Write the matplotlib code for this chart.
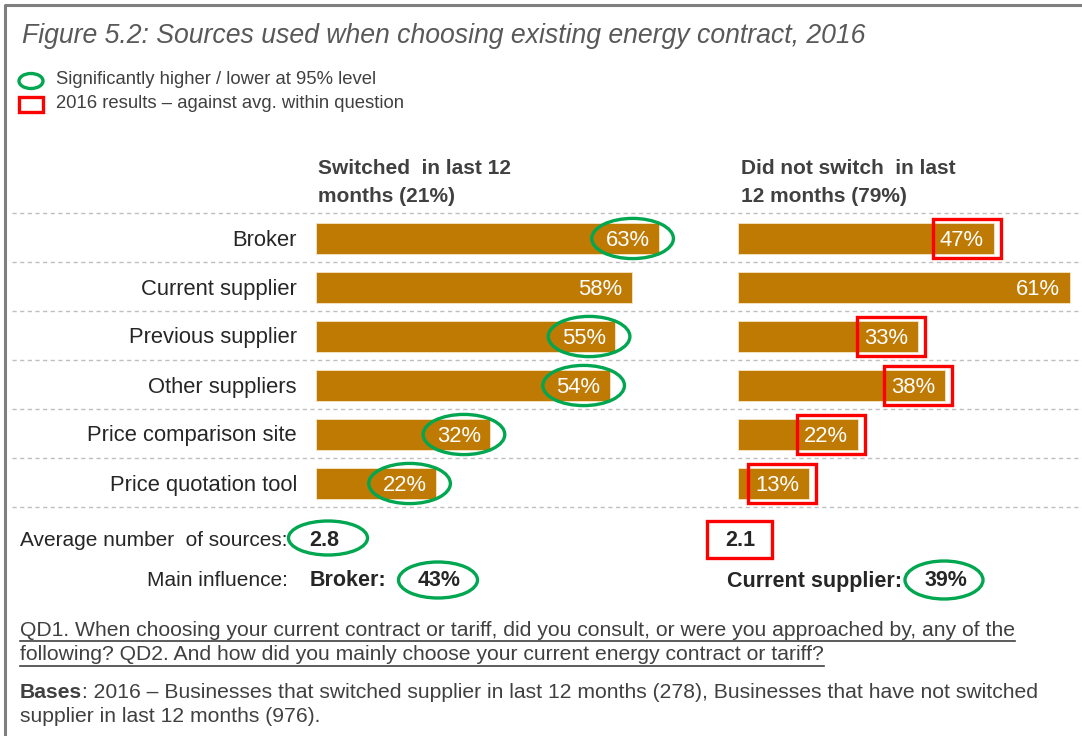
import matplotlib
matplotlib.use("Agg")
import matplotlib.pyplot as plt
from matplotlib.patches import Ellipse, Rectangle

plt.rcParams['font.family'] = ['Liberation Sans', 'DejaVu Sans']

# ── Data ──
categories = ['Broker', 'Current supplier', 'Previous supplier', 'Other suppliers',
              'Price comparison site', 'Price quotation tool']
switched = [63, 58, 55, 54, 32, 22]
not_switched = [47, 61, 33, 38, 22, 13]
# significance flags per bar: green ellipse (left), red box (right)
switched_sig = [True, False, True, True, True, True]
not_switched_flag = [True, False, True, True, True, True]
headers = [['Switched  in last 12', 'months (21%)'],
           ['Did not switch  in last', '12 months (79%)']]
avg_sources = [2.8, 2.1]
main_influence = ['Broker', 'Current supplier']
main_influence_pct = [43, 39]

BAR = '#BF7A04'
GREEN = '#00A650'
RED = '#FF0000'
GRID = '#BFBFBF'
DARK = '#262626'
GREY = '#404040'

W, H = 1082, 736
PX = 5.44          # pixels per percentage point
ROW = 49.0         # row pitch in pixels
TOP = 214          # first dashed line

fig = plt.figure(figsize=(W / 100, H / 100), dpi=100)
bg = fig.add_axes([0, 0, 1, 1])
bg.set_xlim(0, W)
bg.set_ylim(H, 0)
bg.axis('off')

# frame (top and left only)
bg.plot([5, 5, W], [H, 5, 5], color='#7F7F7F', lw=2.2, solid_capstyle='butt')

bg.text(22, 36, 'Figure 5.2: Sources used when choosing existing energy contract, 2016',
        fontsize=19.2, style='italic', color='#595959', va='center')

# legend
bg.add_patch(Ellipse((31, 81), 24, 15, fill=False, edgecolor=GREEN, lw=2.4))
bg.text(56, 80, 'Significantly higher / lower at 95% level', fontsize=13.3,
        color=GREY, va='center')
bg.add_patch(Rectangle((19, 97), 24, 15, fill=False, edgecolor=RED, lw=2.4))
bg.text(56, 104, '2016 results – against avg. within question', fontsize=13.3,
        color=GREY, va='center')

# column headers
for x0, lines in zip([318, 741], headers):
    for k, line in enumerate(lines):
        bg.text(x0, 169 + 27 * k, line, fontsize=15, fontweight='bold',
                color=GREY, va='center')

# dashed row separators
for k in range(len(categories) + 1):
    y = TOP + k * ROW - 1
    bg.plot([12, W], [y, y], color=GRID, lw=1, ls=(0, (3, 2.5)))

for i, cat in enumerate(categories):
    bg.text(297, TOP + (i + 0.5) * ROW + 1.5, cat, fontsize=15.8, color=DARK,
            ha='right', va='center')

n = len(categories)
rows = list(range(n))


def bar_axes(x0, xmax):
    ax = fig.add_axes([x0 / W, (H - TOP - n * ROW) / H, xmax * PX / W, n * ROW / H])
    ax.set_xlim(0, xmax)
    ax.set_ylim(n - 0.5, -0.5)
    ax.axis('off')
    ax.patch.set_alpha(0)
    return ax


ax1 = bar_axes(316, 70)
ax1.barh(rows, switched, height=0.64, color=BAR, edgecolor='#F5E6C8', lw=0.6)
for i, v in enumerate(switched):
    ax1.text(v - 1.7, i + 0.04, f'{v}%', color='white', fontsize=15.8,
             ha='right', va='center')
    if switched_sig[i]:
        ax1.add_patch(Ellipse((v - 4.8, i), 15, 0.82, fill=False,
                              edgecolor=GREEN, lw=2.4, clip_on=False))

ax2 = bar_axes(738, 62)
ax2.barh(rows, not_switched, height=0.64, color=BAR, edgecolor='#F5E6C8', lw=0.6)
for i, v in enumerate(not_switched):
    ax2.text(v - 1.8, i + 0.04, f'{v}%', color='white', fontsize=15.8,
             ha='right', va='center')
    if not_switched_flag[i]:
        ax2.add_patch(Rectangle((v - 11.2, i - 0.39), 12.5, 0.79, fill=False,
                                edgecolor=RED, lw=2.4, clip_on=False))

# summary rows
bg.text(20, 541, 'Average number  of sources:', fontsize=15, color=DARK, va='center')
bg.add_patch(Ellipse((328, 538), 79, 34, fill=False, edgecolor=GREEN, lw=2.4))
bg.text(324, 541, f'{avg_sources[0]}', fontsize=15.5, fontweight='bold', color=DARK,
        ha='center', va='center')
bg.add_patch(Rectangle((707, 521), 65, 37, fill=False, edgecolor=RED, lw=2.4))
bg.text(740, 541, f'{avg_sources[1]}', fontsize=15.5, fontweight='bold', color=DARK,
        ha='center', va='center')

bg.text(288, 581, 'Main influence:', fontsize=15, color=DARK, ha='right', va='center')
bg.text(310, 581, f'{main_influence[0]}:', fontsize=15.5, fontweight='bold', color=DARK,
        va='center')
bg.add_patch(Ellipse((438, 580), 79, 36, fill=False, edgecolor=GREEN, lw=2.4))
bg.text(439, 581, f'{main_influence_pct[0]}%', fontsize=15.5, fontweight='bold',
        color=DARK, ha='center', va='center')
bg.text(727, 581, f'{main_influence[1]}:', fontsize=15.5, fontweight='bold', color=DARK,
        va='center')
bg.add_patch(Ellipse((944, 580), 78, 38, fill=False, edgecolor=GREEN, lw=2.4))
bg.text(946, 581, f'{main_influence_pct[1]}%', fontsize=15.5, fontweight='bold',
        color=DARK, ha='center', va='center')

# footnotes
notes = ['QD1. When choosing your current contract or tariff, did you consult, or were you approached by, any of the',
         'following? QD2. And how did you mainly choose your current energy contract or tariff?']
fig.canvas.draw()
renderer = fig.canvas.get_renderer()
for y, line in zip([630, 655], notes):
    t = bg.text(20, y, line, fontsize=15.2, color=GREY, va='center')
    bb = t.get_window_extent(renderer)
    bg.plot([20, 20 + bb.width], [y + 11, y + 11], color=GREY, lw=1.2)

b = bg.text(20, 692, 'Bases', fontsize=15.2, fontweight='bold', color=GREY,
            va='center')
bw = b.get_window_extent(renderer).width
bg.text(20 + bw, 692, ': 2016 – Businesses that switched supplier in last 12 months (278), '
        'Businesses that have not switched', fontsize=15.2, color=GREY, va='center')
bg.text(20, 717, 'supplier in last 12 months (976).', fontsize=15.2, color=GREY,
        va='center')

fig.savefig('out.png', dpi=100)
